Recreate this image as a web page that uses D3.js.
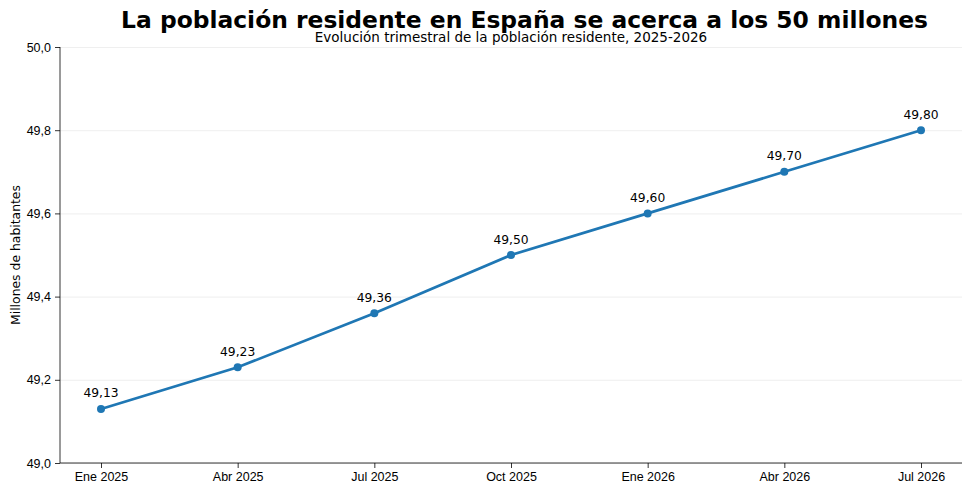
<!DOCTYPE html>
<html>
<head>
<meta charset="utf-8" />
<title>Población residente</title>
<script src="https://cdn.jsdelivr.net/npm/d3@7"></script>
<style>
  html, body { margin: 0; padding: 0; background: #fff; }
  svg { display: block; font-family: "DejaVu Sans", sans-serif; }
  .grid line { stroke: #ebebeb; stroke-width: 0.8px; }
  .grid path { display: none; }
  .axis path, .axis line { stroke: #000; stroke-width: 0.8px; }
  .axis text { font-size: 12.5px; fill: #000; }
</style>
</head>
<body>
<div id="chart"></div>
<script>
  // data
  const periods = ["Ene 2025", "Abr 2025", "Jul 2025", "Oct 2025", "Ene 2026", "Abr 2026", "Jul 2026"];
  const population = [49.13, 49.23, 49.36, 49.50, 49.60, 49.70, 49.80];
  const yTicks = [49.0, 49.2, 49.4, 49.6, 49.8, 50.0];

  const width = 970, height = 491;
  const margin = {top: 47, right: 8, bottom: 28, left: 60};
  const innerW = width - margin.left - margin.right;
  const innerH = height - margin.top - margin.bottom;

  const fmt = d3.format(".2f");
  const comma = s => s.replace(".", ",");

  const svg = d3.select("#chart").append("svg")
      .attr("width", width)
      .attr("height", height);

  const g = svg.append("g")
      .attr("transform", `translate(${margin.left},${margin.top})`);

  // matplotlib-like 5% margin on x
  const x = d3.scaleLinear()
      .domain([-0.3, periods.length - 1 + 0.3])
      .range([0, innerW]);

  const y = d3.scaleLinear()
      .domain([49.0, 50.0])
      .range([innerH, 0]);

  g.append("g")
      .attr("class", "grid")
      .call(d3.axisLeft(y).tickValues(yTicks).tickSize(-innerW).tickFormat(""));

  g.append("g")
      .attr("class", "axis")
      .call(d3.axisLeft(y).tickValues(yTicks).tickSize(5).tickPadding(4)
        .tickFormat(d => comma(d3.format(".1f")(d))));

  g.append("g")
      .attr("class", "axis")
      .attr("transform", `translate(0,${innerH})`)
      .call(d3.axisBottom(x).tickValues(d3.range(periods.length)).tickSize(5).tickPadding(4)
        .tickFormat(i => periods[i]));

  g.selectAll(".axis .domain").attr("d", function() {
    return d3.select(this.parentNode).attr("transform")
      ? `M0,0H${innerW}` : `M0,${innerH}V0`;
  });

  const line = d3.line()
      .x((d, i) => x(i))
      .y(d => y(d));

  g.append("path")
      .datum(population)
      .attr("fill", "none")
      .attr("stroke", "#1f77b4")
      .attr("stroke-width", 2.7)
      .attr("d", line);

  g.selectAll(".dot")
      .data(population)
      .enter().append("circle")
      .attr("class", "dot")
      .attr("cx", (d, i) => x(i))
      .attr("cy", d => y(d))
      .attr("r", 4)
      .attr("fill", "#1f77b4");

  g.selectAll(".lbl")
      .data(population)
      .enter().append("text")
      .attr("class", "lbl")
      .attr("x", (d, i) => x(i))
      .attr("y", d => y(d) - 11.5)
      .attr("text-anchor", "middle")
      .attr("font-size", "12.3px")
      .text(d => comma(fmt(d)));

  svg.append("text")
      .attr("x", margin.left + innerW / 2 + 13.5)
      .attr("y", 28)
      .attr("text-anchor", "middle")
      .attr("font-size", "23.4px")
      .attr("font-weight", "bold")
      .text("La población residente en España se acerca a los 50 millones");

  svg.append("text")
      .attr("x", margin.left + innerW / 2)
      .attr("y", 42)
      .attr("text-anchor", "middle")
      .attr("font-size", "13.5px")
      .text("Evolución trimestral de la población residente, 2025-2026");

  svg.append("text")
      .attr("transform", `translate(20,${margin.top + innerH / 2}) rotate(-90)`)
      .attr("text-anchor", "middle")
      .attr("font-size", "12.4px")
      .text("Millones de habitantes");
</script>
</body>
</html>
